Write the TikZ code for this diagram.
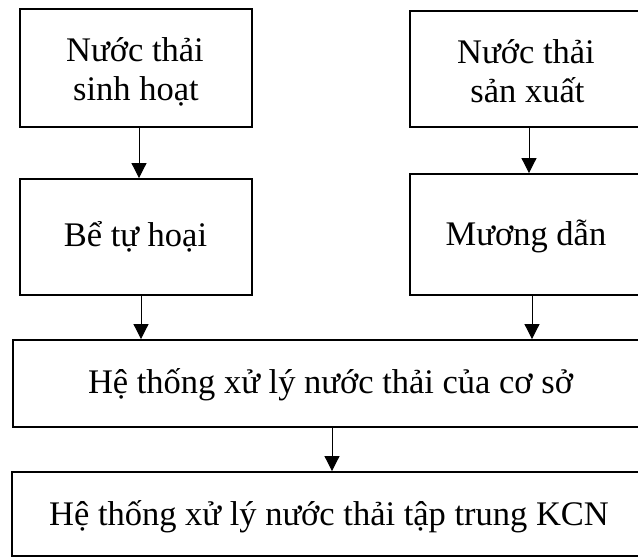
\documentclass[tikz,border=0pt]{standalone}
\usepackage{fontspec}
\setmainfont{Liberation Serif}
\usetikzlibrary{arrows.meta}
\begin{document}
\begin{tikzpicture}[x=1pt,y=-1pt,
  box/.style={draw,line width=1.9pt,rectangle,inner sep=0pt},
  txt/.style={anchor=base,inner sep=0pt,font=\fontsize{34.5}{39}\selectfont},
  arr/.style={line width=1pt,-{Triangle[width=15pt,length=15pt]}}]
\useasboundingbox (0,0) rectangle (638,557);
\clip (0,0) rectangle (638,557);
\node[box,minimum width=232pt,minimum height=118pt] (b1) at (136,68) {};
\node[box,minimum width=232pt,minimum height=116pt] (b2) at (526,69) {};
\node[box,minimum width=232pt,minimum height=116pt] (b3) at (136,237) {};
\node[box,minimum width=232pt,minimum height=121pt] (b4) at (526,234.5) {};
\node[box,minimum width=640pt,minimum height=87pt] (b5) at (333,383.5) {};
\node[box,minimum width=640pt,minimum height=84pt] (b6) at (332,514) {};
\node[txt] (t1a) at (135,61) {Nước thải};
\node[txt] (t1b) at (136,100) {sinh hoạt};
\node[txt] (t2a) at (526,63) {Nước thải};
\node[txt] (t2b) at (527.5,102) {sản xuất};
\node[txt] (t3) at (135.5,246) {Bể tự hoại};
\node[txt] (t4) at (526,245) {Mương dẫn};
\node[txt] (t5) at (330.5,393) {Hệ thống xử lý nước thải của cơ sở};
\node[txt] (t6) at (329,525) {Hệ thống xử lý nước thải tập trung KCN};
\coordinate (xa) at (139,0);
\coordinate (xb) at (529,0);
\coordinate (xc) at (141,0);
\coordinate (xd) at (532,0);
\coordinate (xe) at (332,0);
\draw[arr] (b1.south -| xa) -- (b3.north -| xa);
\draw[arr] (b2.south -| xb) -- (b4.north -| xb);
\draw[arr] (b3.south -| xc) -- (b5.north -| xc);
\draw[arr] (b4.south -| xd) -- (b5.north -| xd);
\draw[arr] (b5.south -| xe) -- (b6.north -| xe);
\end{tikzpicture}
\end{document}
